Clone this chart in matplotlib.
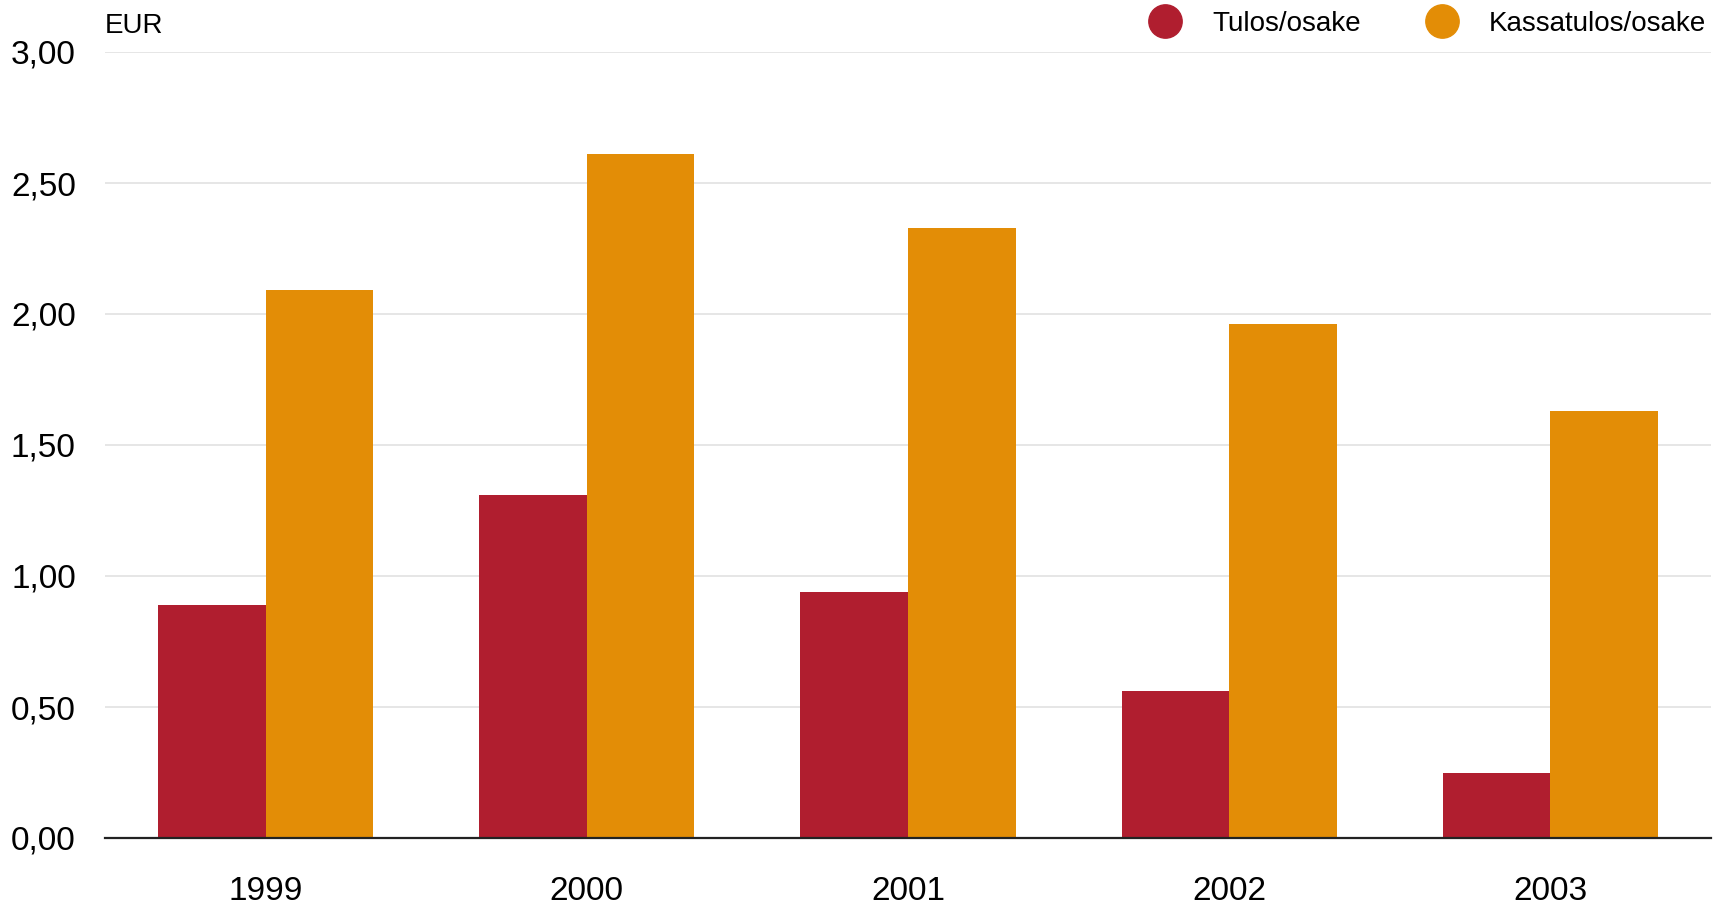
import numpy as np
import matplotlib
matplotlib.use("Agg")
import matplotlib.pyplot as plt
from matplotlib.lines import Line2D

plt.rcParams['font.family'] = ['Liberation Sans Narrow', 'Liberation Sans', 'DejaVu Sans']

years = ['1999', '2000', '2001', '2002', '2003']
tulos = [0.89, 1.31, 0.94, 0.56, 0.25]
kassatulos = [2.09, 2.61, 2.33, 1.96, 1.63]
yticks = [0.0, 0.5, 1.0, 1.5, 2.0, 2.5, 3.0]

red = '#B01E2F'
orange = '#E38D06'

fig = plt.figure(figsize=(17.18, 9.08), dpi=100)
ax = fig.add_axes([105/1718, 1 - 838/908, (1711 - 105)/1718, (838 - 52)/908])

x = np.arange(len(years))
w = 0.335
ax.bar(x - w/2, tulos, w, color=red, zorder=2)
ax.bar(x + w/2, kassatulos, w, color=orange, zorder=2)

ax.set_xlim(-0.5, len(years) - 0.5)
ax.set_ylim(0, 3.0)
ax.set_yticks(yticks)
ax.set_yticklabels([f'{v:.2f}'.replace('.', ',') for v in yticks])
ax.set_xticks(x)
ax.set_xticklabels(years)
ax.tick_params(axis='y', length=0, pad=21, labelsize=24)
ax.tick_params(axis='x', length=0, pad=27, labelsize=24)

ax.grid(axis='y', color='#E2E2E2', linewidth=1.2, zorder=0)
for s in ['top', 'right', 'left']:
    ax.spines[s].set_visible(False)
ax.spines['bottom'].set_color('#222222')
ax.spines['bottom'].set_linewidth(1.6)
ax.spines['bottom'].set_zorder(3)

fig.text(105/1718, 1 - 26/908, 'EUR', fontsize=20, va='center', ha='left')

handles = [Line2D([], [], marker='o', linestyle='', markersize=24, color=red),
           Line2D([], [], marker='o', linestyle='', markersize=24, color=orange)]
fig.legend(handles, ['Tulos/osake', 'Kassatulos/osake'], loc='center right',
           bbox_to_anchor=(1706/1718, 1 - 24/908), ncol=2, frameon=False,
           fontsize=20, handletextpad=0.7, columnspacing=1.9, borderpad=0, borderaxespad=0)

fig.savefig('out.png', dpi=100)
